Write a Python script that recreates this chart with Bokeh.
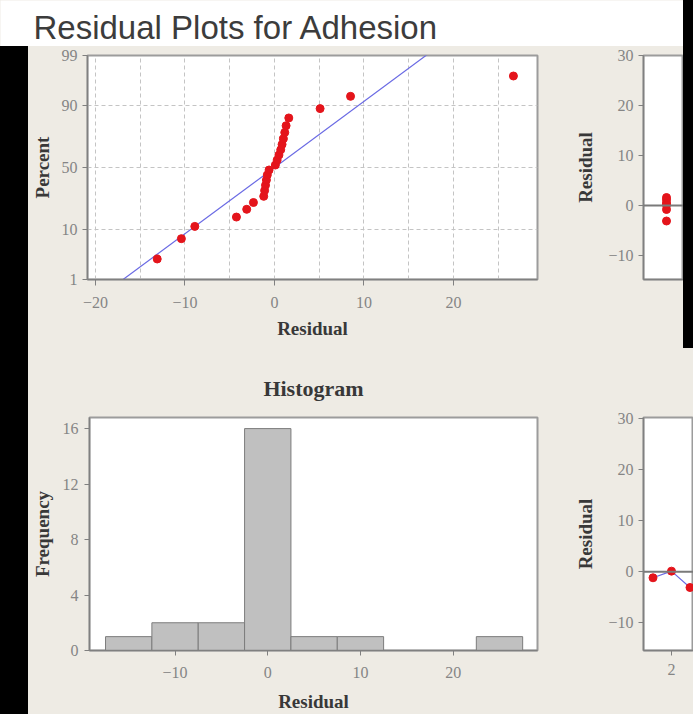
from statistics import NormalDist
from bokeh.plotting import figure
from bokeh.layouts import column, row
from bokeh.models import Range1d, FixedTicker, Span, Label, Div
from bokeh.embed import file_html
from bokeh.resources import INLINE

# ---------------- data ----------------
title_text = "Residual Plots for Adhesion"
residuals = [-13.1, -10.4, -8.9, -4.25, -3.1, -2.35, -1.2, -1.1, -1.0, -0.9,
             -0.8, -0.6, 0.1, 0.3, 0.5, 0.7, 0.85, 1.0, 1.15, 1.3, 1.6,
             5.1, 8.5, 26.7]
pct_ticks = [1, 10, 50, 90, 99]
pct_grid = [10, 50, 90]
hist_centers = [-15, -10, -5, 0, 5, 10, 15, 20, 25]
hist_counts = [1, 2, 2, 16, 1, 1, 0, 0, 1]
hist_bin_width = 5
fits_x = [6.0, 6.0, 6.0, 6.0, 6.0, 6.0]
fits_resid = [1.6, 1.15, 0.5, 0.1, -0.8, -3.1]
order_x = [1, 2, 3]
order_resid = [-1.2, 0.1, -3.1]

# ---------------- style ----------------
BEIGE = "#eeebe4"
RED = "#e4141b"
BLUE = "#6a6ae4"
SERIF = "Liberation Serif"
TICK_COL = "#858585"
LAB_COL = "#383838"
AX_COL = "#808080"

nd = NormalDist()


def block(w, h, color):
    return Div(text="", width=w, height=h, margin=0,
               styles={"background-color": color})


def base_fig(w, h, left, right, top, bottom, xr, yr):
    p = figure(width=w, height=h, x_range=xr, y_range=yr,
               output_backend="svg", toolbar_location=None,
               min_border_left=left, min_border_right=right,
               min_border_top=top, min_border_bottom=bottom,
               background_fill_color="white", border_fill_color=BEIGE)
    p.outline_line_color = "#9c9c9c"
    p.outline_line_width = 2
    for ax in p.axis:
        ax.axis_line_color = AX_COL
        ax.axis_line_width = 1.5
        ax.major_tick_line_color = AX_COL
        ax.minor_tick_line_color = None
        ax.major_tick_in = 0
        ax.major_tick_out = 5
        ax.major_label_standoff = 5
        ax.major_label_text_font = SERIF
        ax.major_label_text_font_size = "16px"
        ax.major_label_text_color = TICK_COL
        ax.axis_label_text_font = SERIF
        ax.axis_label_text_font_style = "bold"
        ax.axis_label_text_font_size = "19px"
        ax.axis_label_text_color = LAB_COL
    p.grid.grid_line_color = None
    return p


# ---------------- title band ----------------
tb = figure(width=683, height=46, x_range=Range1d(0, 683), y_range=Range1d(0, 46),
            x_axis_type=None, y_axis_type=None, output_backend="svg",
            toolbar_location=None, min_border=0,
            background_fill_color="white", border_fill_color="white")
tb.title = None
tb.outline_line_color = None
tb.grid.grid_line_color = None
tb.add_layout(Label(x=33, y=19, text=title_text, text_font="Liberation Sans",
                    text_font_size="33px", text_color="#3c3c3c",
                    text_baseline="alphabetic"))

# ---------------- normal probability plot ----------------
n = len(residuals)
srt = sorted(residuals)
zq = [nd.inv_cdf((i + 1 - 0.3) / (n + 0.4)) for i in range(n)]
mu = sum(residuals) / n
sd = (sum((r - mu) ** 2 for r in residuals) / (n - 1)) ** 0.5
z_lo, z_hi = nd.inv_cdf(0.01), nd.inv_cdf(0.99)

p1 = base_fig(540, 302, 59, 31, 9, 69, Range1d(-20.89, 29.39), Range1d(z_lo, z_hi))
p1.xaxis.axis_label = "Residual"
p1.yaxis.axis_label = "Percent"
p1.xaxis.ticker = FixedTicker(ticks=[-20, -10, 0, 10, 20])
zt = [nd.inv_cdf(v / 100) for v in pct_ticks]
p1.yaxis.ticker = FixedTicker(ticks=zt)
p1.yaxis.major_label_overrides = {z: str(v) for z, v in zip(zt, pct_ticks)}
p1.xgrid.ticker = FixedTicker(ticks=list(range(-20, 30, 5)))
p1.ygrid.ticker = FixedTicker(ticks=[nd.inv_cdf(v / 100) for v in pct_grid])
p1.grid.grid_line_color = "#c4c4c4"
p1.grid.grid_line_dash = "4 3"
p1.grid.grid_line_width = 1
p1.xaxis.major_tick_out = 6
p1.xaxis.major_label_standoff = 11
p1.xaxis.axis_label_standoff = 7
p1.yaxis.axis_label_standoff = 6
zl = [z_lo - 0.2, z_hi + 0.2]
p1.line([mu + sd * z for z in zl], zl, line_color=BLUE, line_width=1.2)
p1.scatter(srt, zq, size=8, fill_color=RED, line_color=RED)

# ---------------- versus fits (partly visible) ----------------
p2 = base_fig(115, 302, 75, 0, 9, 69, Range1d(1.4, 9.4), Range1d(-14.8, 30))
p2.yaxis.axis_label = "Residual"
p2.yaxis.ticker = FixedTicker(ticks=[-10, 0, 10, 20, 30])
p2.xaxis.ticker = FixedTicker(ticks=[10, 20, 30, 40])
p2.yaxis.axis_label_standoff = 9
p2.xaxis.major_tick_out = 6
p2.xaxis.major_label_standoff = 9
p2.add_layout(Span(location=0, dimension="width", line_color="#7a7a7a", line_width=2))
p2.scatter(fits_x, fits_resid, size=8, fill_color=RED, line_color=RED)

# ---------------- histogram ----------------
p3 = base_fig(540, 366, 59, 31, 69, 63, Range1d(-19.23, 29.1), Range1d(0, 16.8))
p3.title.text = "Histogram"
p3.title.align = "center"
p3.title.text_font = SERIF
p3.title.text_font_size = "22px"
p3.title.text_font_style = "bold"
p3.title.text_color = LAB_COL
p3.title.standoff = 33
p3.xaxis.axis_label = "Residual"
p3.yaxis.axis_label = "Frequency"
p3.xaxis.ticker = FixedTicker(ticks=[-10, 0, 10, 20])
p3.yaxis.ticker = FixedTicker(ticks=[0, 4, 8, 12, 16])
p3.xaxis.major_label_standoff = 11
p3.xaxis.axis_label_standoff = 10
p3.yaxis.major_label_standoff = 6
p3.yaxis.axis_label_standoff = 7
lefts = [c - hist_bin_width / 2 for c in hist_centers]
rights = [c + hist_bin_width / 2 for c in hist_centers]
p3.quad(left=lefts, right=rights, bottom=0, top=hist_counts,
        fill_color="#c0c0c0", line_color="#7c7c7c", line_width=1)

# ---------------- versus order (partly visible) ----------------
p4 = base_fig(125, 366, 75, 0, 69, 63, Range1d(0.486, 3.19), Range1d(-15.4, 30.1))
p4.yaxis.axis_label = "Residual"
p4.yaxis.ticker = FixedTicker(ticks=[-10, 0, 10, 20, 30])
p4.xaxis.ticker = FixedTicker(ticks=[2, 4, 6, 8])
p4.yaxis.axis_label_standoff = 9
p4.xaxis.major_label_standoff = 8
p4.add_layout(Span(location=0, dimension="width", line_color="#7a7a7a", line_width=2))
p4.line(order_x, order_resid, line_color=BLUE, line_width=1.2)
p4.scatter(order_x, order_resid, size=8, fill_color=RED, line_color=RED)

top = row(column(tb, row(block(28, 302, "black"), p1, p2,
                         styles={"background-color": BEIGE})),
          block(10, 348, "black"))
bottom = row(block(28, 366, "black"), p3, p4, styles={"background-color": BEIGE})
layout = column(top, bottom, styles={"background-color": BEIGE})

open("out.html", "w").write(file_html(layout, INLINE, title="Residual Plots for Adhesion"))
